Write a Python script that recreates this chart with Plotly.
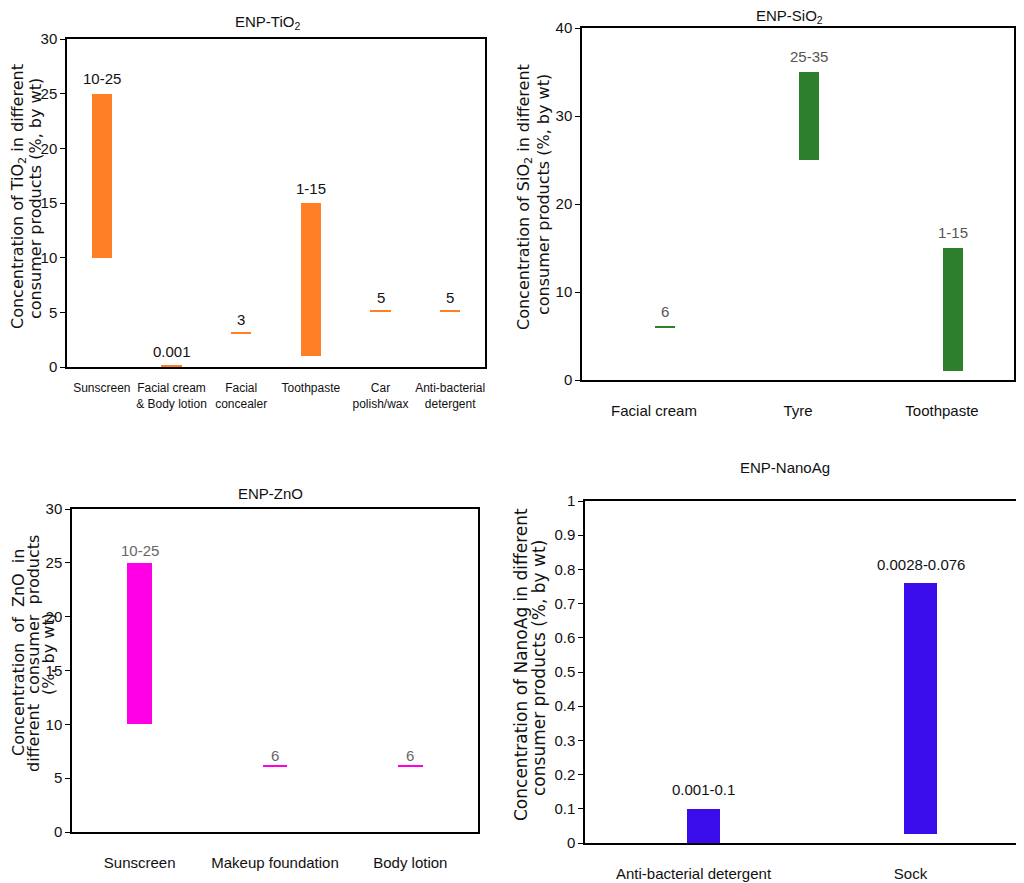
import plotly.graph_objects as go

# ---------------- data ----------------
tio2_cats = ["Sunscreen", "Facial cream<br>& Body lotion", "Facial<br>concealer",
             "Toothpaste", "Car<br>polish/wax", "Anti-bacterial<br>detergent"]
tio2_low = [10, 0.001, 3, 1, 5, 5]
tio2_high = [25, 0.001, 3, 15, 5, 5]
tio2_labels = ["10-25", "0.001", "3", "1-15", "5", "5"]

sio2_cats = ["Facial cream", "Tyre", "Toothpaste"]
sio2_low = [6, 25, 1]
sio2_high = [6, 35, 15]
sio2_labels = ["6", "25-35", "1-15"]

zno_cats = ["Sunscreen", "Makeup foundation", "Body lotion"]
zno_low = [10, 6, 6]
zno_high = [25, 6, 6]
zno_labels = ["10-25", "6", "6"]

ag_cats = ["Anti-bacterial detergent", "Sock"]
ag_low = [0, 0.025]
ag_high = [0.1, 0.76]
ag_labels = ["0.001-0.1", "0.0028-0.076"]

# ---------------- style / layout helpers ----------------
SANS = "Liberation Sans, Arial, sans-serif"
WIDE = "DejaVu Sans, Verdana, sans-serif"

OFF = 8          # page body margin in the browser
W, H = 1024 - OFF, 883 - OFF


def xp(px):
    return (px - OFF) / W


def yp(py):
    return 1 - (py - OFF) / H


panels = [
    dict(cats=tio2_cats, low=tio2_low, high=tio2_high, labels=tio2_labels,
         color="#FF7F27", lblcolor="#111111", thin=0.22, width=0.29, offset=None,
         xshift=0, yshift=15, ax="1", box=(67, 485, 39, 367),
         yrange=[0, 30], dtick=5, title="ENP-TiO<sub>2</sub>", tpos=(267, 22),
         catsize=12, standoff=9),
    dict(cats=sio2_cats, low=sio2_low, high=sio2_high, labels=sio2_labels,
         color="#2E7F2B", lblcolor="#555555", thin=0.14, width=0.14, offset=0.006,
         xshift=11, yshift=16, ax="2", box=(582, 1014, 28, 380),
         yrange=[0, 40], dtick=10, title="ENP-SiO<sub>2</sub>", tpos=(789, 17),
         catsize=15, standoff=16),
    dict(cats=zno_cats, low=zno_low, high=zno_high, labels=zno_labels,
         color="#FF00E6", lblcolor="#666666", thin=0.2, width=0.18, offset=None,
         xshift=0, yshift=12, ax="3", box=(72, 478, 509, 832),
         yrange=[0, 30], dtick=5, title="ENP-ZnO", tpos=(270, 493),
         catsize=15, standoff=16),
    dict(cats=ag_cats, low=ag_low, high=ag_high, labels=ag_labels,
         color="#3A0CEB", lblcolor="#111111", thin=0.005, width=0.15, offset=-0.029,
         xshift=10, yshift=19, ax="4", box=(585, 1019, 501, 843),
         yrange=[0, 1], dtick=0.1, title="ENP-NanoAg", tpos=(785, 467),
         catsize=15, standoff=16),
]

fig = go.Figure()
annotations = []

for p in panels:
    heights = [max(h - l, p["thin"]) for l, h in zip(p["low"], p["high"])]
    bar = dict(x=p["cats"], y=heights, base=p["low"], width=p["width"],
               marker=dict(color=p["color"], line=dict(width=0)),
               xaxis="x" + p["ax"], yaxis="y" + p["ax"], showlegend=False,
               hoverinfo="skip")
    if p["offset"] is not None:
        bar["offset"] = p["offset"]
    fig.add_trace(go.Bar(**bar))
    for c, h, t in zip(p["cats"], p["high"], p["labels"]):
        annotations.append(dict(x=c, y=h, text=t, showarrow=False,
                                xref="x" + p["ax"], yref="y" + p["ax"],
                                xshift=p["xshift"], yshift=p["yshift"],
                                font=dict(family=SANS, size=15, color=p["lblcolor"])))
    annotations.append(dict(x=xp(p["tpos"][0]), y=yp(p["tpos"][1]),
                            xref="paper", yref="paper",
                            xanchor="center", yanchor="middle",
                            text=p["title"], showarrow=False,
                            font=dict(family=SANS, size=15, color="#111111")))
    l, r, t, b = p["box"]
    xa = "xaxis" + ("" if p["ax"] == "1" else p["ax"])
    ya = "yaxis" + ("" if p["ax"] == "1" else p["ax"])
    fig.update_layout(**{
        xa: dict(domain=[xp(l), xp(r)], anchor="y" + p["ax"], type="category",
                 range=[-0.5, len(p["cats"]) - 0.5], automargin=False,
                 showline=True, linecolor="#000000", linewidth=1.5, mirror=True,
                 ticks="", showgrid=False, zeroline=False, tickangle=0,
                 tickfont=dict(family=SANS, size=p["catsize"], color="#111111"),
                 ticklabelstandoff=p["standoff"]),
        ya: dict(domain=[yp(b), yp(t)], anchor="x" + p["ax"], range=p["yrange"],
                 dtick=p["dtick"], tick0=0, automargin=False,
                 showline=True, linecolor="#000000", linewidth=1.5, mirror=True,
                 ticks="outside", ticklen=5, tickcolor="#000000", tickwidth=1,
                 showgrid=False, zeroline=False,
                 tickfont=dict(family=SANS, size=15, color="#111111")),
    })

# y-axis titles (line by line)
ytitles = [
    ("Concentration of TiO<sub>2</sub> in different", 19, 197, 16),
    ("consumer products (%, by wt)", 35, 199, 16),
    ("Concentration of SiO<sub>2</sub> in different", 525, 197, 16),
    ("consumer products (%, by wt)", 543, 195, 16),
    ("Concentration  of  ZnO  in", 18, 653, 16),
    ("different  consumer  products", 33, 654, 16),
    ("(%, by wt)", 48, 654, 16),
    ("Concentration of NanoAg in different", 521, 665, 17),
    ("consumer products (%, by wt)", 539, 668, 17),
]
for txt, px, py, fs in ytitles:
    annotations.append(dict(x=xp(px), y=yp(py), xref="paper", yref="paper",
                            text=txt, textangle=-90, showarrow=False,
                            xanchor="center", yanchor="middle",
                            font=dict(family=WIDE, size=fs, color="#111111")))

fig.update_layout(width=W, height=H, margin=dict(l=0, r=0, t=0, b=0),
                  paper_bgcolor="white", plot_bgcolor="white",
                  annotations=annotations, bargap=0)

fig.write_html("out.html")
